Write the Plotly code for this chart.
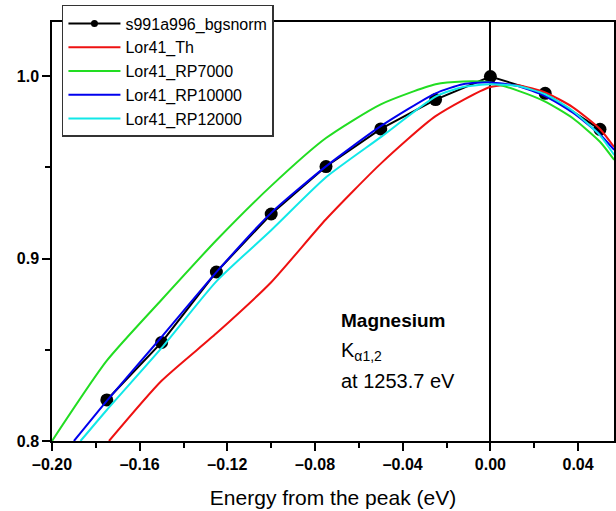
import plotly.graph_objects as go

# measured data points
data_x = [-0.175, -0.15, -0.125, -0.10, -0.075, -0.05, -0.025, 0.0, 0.025, 0.05]
data_y = [0.8225, 0.854, 0.8926, 0.9244, 0.9504, 0.971, 0.9871, 0.9997, 0.9905, 0.9708]

# fitted curves
th_x = [-0.174, -0.15, -0.125, -0.10, -0.075, -0.05, -0.025, 0.0, 0.0125, 0.025, 0.0375, 0.05, 0.0565]
th_y = [0.800, 0.833, 0.859, 0.887, 0.9215, 0.952, 0.978, 0.994, 0.995, 0.991, 0.983, 0.971, 0.961]

rp7000_x = [-0.20, -0.175, -0.15, -0.125, -0.10, -0.075, -0.05, -0.025, -0.0125, 0.0, 0.0125, 0.025, 0.0375, 0.05, 0.0565]
rp7000_y = [0.800, 0.844, 0.8774, 0.910, 0.9398, 0.966, 0.9845, 0.9955, 0.997, 0.9965, 0.992, 0.986, 0.977, 0.964, 0.954]

rp10000_x = [-0.19, -0.175, -0.15, -0.125, -0.10, -0.075, -0.05, -0.025, -0.0125, 0.0, 0.0125, 0.025, 0.0375, 0.05, 0.0565]
rp10000_y = [0.800, 0.822, 0.857, 0.8925, 0.925, 0.9505, 0.9725, 0.9905, 0.9955, 0.9965, 0.9945, 0.989, 0.980, 0.968, 0.9595]

rp12000_x = [-0.187, -0.175, -0.15, -0.125, -0.10, -0.075, -0.05, -0.025, -0.0125, 0.0, 0.0125, 0.025, 0.0375, 0.05, 0.0565]
rp12000_y = [0.800, 0.817, 0.851, 0.8875, 0.9155, 0.9445, 0.9665, 0.9887, 0.994, 0.9955, 0.9945, 0.990, 0.981, 0.9675, 0.9567]

x_ticks = [-0.20, -0.16, -0.12, -0.08, -0.04, 0.00, 0.04]
y_ticks = [0.8, 0.9, 1.0]

FONT = "Arial, 'Liberation Sans', sans-serif"

fig = go.Figure()

# legend-only proxy for the data series (small marker in legend)
fig.add_trace(go.Scatter(x=[None], y=[None], name="s991a996_bgsnorm", mode="lines+markers",
                         line=dict(color="black", width=2), marker=dict(size=7, color="black")))
fig.add_trace(go.Scatter(x=data_x, y=data_y, name="s991a996_bgsnorm", mode="lines+markers",
                         showlegend=False,
                         line=dict(color="black", width=2), marker=dict(size=13, color="black")))

curves = [
    ("Lor41_Th", th_x, th_y, "#ee1111"),
    ("Lor41_RP7000", rp7000_x, rp7000_y, "#22dd22"),
    ("Lor41_RP10000", rp10000_x, rp10000_y, "#0000ee"),
    ("Lor41_RP12000", rp12000_x, rp12000_y, "#11e8e8"),
]
for name, xs, ys, col in curves:
    fig.add_trace(go.Scatter(x=xs, y=ys, name=name, mode="lines",
                             line=dict(color=col, width=2, shape="spline", smoothing=0.6)))

x0, x1 = -0.2, 0.0564
y0, y1 = 0.8, 1.0296

fig.update_xaxes(range=[x0, x1], tickvals=x_ticks, ticktext=[f"{v:.2f}".replace("-", "\u2013") for v in x_ticks],
                 ticks="outside", ticklen=8, tickwidth=1.5, tickcolor="black",
                 showline=True, linecolor="black", linewidth=1.5, mirror=True,
                 showgrid=False, zeroline=True, zerolinecolor="black", zerolinewidth=1.5,
                 minor=dict(dtick=0.02, tick0=0, ticks="outside", ticklen=5, tickwidth=1.5, tickcolor="black"),
                 tickfont=dict(family=FONT, size=16, color="black", weight="bold"),
                 title=dict(text="Energy from the peak (eV)", font=dict(family=FONT, size=21, color="black"),
                            standoff=18))
fig.update_yaxes(range=[y0, y1], tickvals=y_ticks, ticktext=[f"{v:.1f}" for v in y_ticks],
                 ticks="outside", ticklen=8, tickwidth=1.5, tickcolor="black",
                 showline=True, linecolor="black", linewidth=1.5, mirror=True,
                 showgrid=False, zeroline=False,
                 minor=dict(dtick=0.05, tick0=0.8, ticks="outside", ticklen=5, tickwidth=1.5, tickcolor="black"),
                 tickfont=dict(family=FONT, size=16, color="black", weight="bold"))

ann_x = -0.0691
fig.add_annotation(x=ann_x, y=0.8658, xref="x", yref="y", text="<b>Magnesium</b>", showarrow=False,
                   xanchor="left", yanchor="middle", font=dict(family=FONT, size=19, color="black"))
fig.add_annotation(x=ann_x, y=0.8492, xref="x", yref="y", text="K<sub>\u03b11,2</sub>", showarrow=False,
                   xanchor="left", yanchor="middle", font=dict(family=FONT, size=20, color="black"))
fig.add_annotation(x=ann_x, y=0.8329, xref="x", yref="y", text="at 1253.7 eV", showarrow=False,
                   xanchor="left", yanchor="middle", font=dict(family=FONT, size=20, color="black"))

fig.update_layout(
    width=616, height=511,
    margin=dict(l=52, r=0, t=22, b=70),
    plot_bgcolor="white", paper_bgcolor="white",
    font=dict(family=FONT, color="black"),
    legend=dict(x=0.0177, y=1.0406, xanchor="left", yanchor="top",
                bgcolor="white", bordercolor="#333333", borderwidth=1.5,
                font=dict(family=FONT, size=16, color="black"), tracegroupgap=0,
                itemwidth=52),
)

fig.write_html("out.html")
